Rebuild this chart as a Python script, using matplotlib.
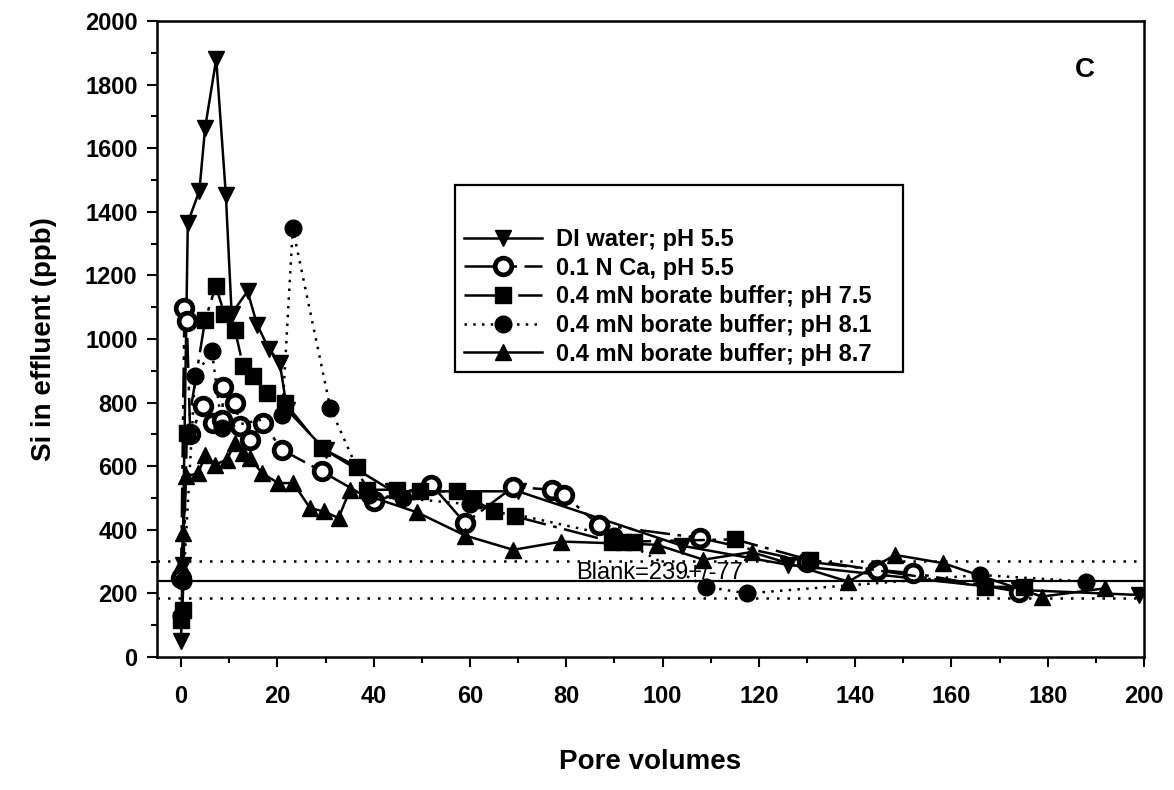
import matplotlib
matplotlib.use("Agg")
import matplotlib.pyplot as plt
from matplotlib.patches import Rectangle
from matplotlib.ticker import MultipleLocator

plt.rcParams['font.family'] = ['Liberation Sans', 'DejaVu Sans']

# Si breakthrough data (pore volumes vs Si in effluent, ppb)
di_x = [0, 0.3, 1.4, 3.8, 5.0, 7.3, 9.3, 10.5, 13.8, 15.8, 18.2, 20.5, 22.0, 30.0,
        44.0, 70.0, 104.0, 126.0, 174.0, 199.0]
di_y = [50, 290, 1366, 1466, 1665, 1880, 1453, 1080, 1150, 1045, 970, 925, 778, 650,
        521, 521, 350, 290, 211, 195]

ca_x = [0, 0.7, 1.2, 1.9, 4.6, 6.7, 8.5, 8.8, 11.2, 12.3, 14.3, 17.1, 20.9, 29.2,
        40.0, 52.0, 59.0, 69.0, 77.0, 79.5, 86.7, 107.8, 130.0, 144.5, 152.0, 174.0]
ca_y = [250, 1098, 1056, 700, 788, 736, 746, 850, 800, 726, 683, 736, 652, 584,
        490, 542, 421, 535, 526, 510, 416, 374, 300, 274, 264, 205]

b75_x = [0, 0.3, 1.2, 5.0, 7.2, 9.0, 11.2, 12.9, 15.0, 17.8, 21.6, 29.2, 36.5, 38.6,
         44.8, 49.6, 57.3, 60.7, 64.9, 69.4, 89.4, 91.9, 94.0, 115.0, 130.6, 167.0, 175.0]
b75_y = [117, 148, 704, 1060, 1166, 1080, 1028, 914, 883, 830, 799, 657, 599, 526,
         526, 521, 521, 494, 460, 442, 363, 363, 363, 370, 305, 221, 220]

b81_x = [0, 0.5, 2.9, 6.4, 8.5, 21.0, 23.2, 31.0, 39.0, 46.0, 60.0, 90.0, 109.0,
         117.5, 166.0, 188.0]
b81_y = [130, 240, 883, 962, 720, 760, 1348, 783, 510, 500, 480, 380, 221,
         200, 258, 237]

b87_x = [0, 0.5, 1.0, 3.6, 5.0, 7.0, 9.5, 11.2, 12.9, 14.3, 16.8, 20.2, 23.3, 26.8,
         29.6, 32.7, 35.1, 49.0, 59.0, 69.0, 79.0, 98.8, 108.5, 118.5, 138.6, 148.3,
         158.3, 178.8, 191.9]
b87_y = [290, 390, 568, 578, 636, 605, 620, 673, 641, 626, 578, 547, 547, 468,
         458, 437, 526, 455, 382, 337, 363, 353, 306, 330, 237, 321, 295, 190, 216]

labels = ['DI water; pH 5.5', '0.1 N Ca, pH 5.5', '0.4 mN borate buffer; pH 7.5',
          '0.4 mN borate buffer; pH 8.1', '0.4 mN borate buffer; pH 8.7']

blank_mean = 239
blank_band = [303, 184]

fig = plt.figure(figsize=(11.74, 7.90), dpi=100)
ax = fig.add_axes([157 / 1174, 133 / 790, (1144 - 157) / 1174, (657 - 21) / 790])

# blank level and its band
ax.axhline(blank_mean, color='black', lw=1.6, zorder=1)
for b in blank_band:
    ax.axhline(b, color='black', lw=1.8, ls=(0, (1, 3.2)), zorder=1)
ax.text(82, blank_mean + 26, 'Blank=%d+/-77' % blank_mean, fontsize=17,
        ha='left', va='center', zorder=2)

ms = 12
ax.plot(di_x, di_y, color='black', lw=1.8, ls='-', marker='v', ms=ms,
        mfc='black', mec='black', label=labels[0], zorder=3)
ax.plot(ca_x, ca_y, color='black', lw=1.8, ls=(0, (12, 3, 1.5, 3, 1.5, 3)),
        marker='o', ms=ms, mfc='white', mec='black', mew=3.4,
        label=labels[1], zorder=3)
ax.plot(b75_x, b75_y, color='black', lw=1.8, ls=(0, (14, 3, 1.5, 3)), marker='s',
        ms=ms - 1, mfc='black', mec='black', label=labels[2], zorder=3)
ax.plot(b81_x, b81_y, color='black', lw=1.8, ls=(0, (1, 2.5)), marker='o', ms=ms,
        mfc='black', mec='black', label=labels[3], zorder=3)
ax.plot(b87_x, b87_y, color='black', lw=1.8, ls='-', marker='^', ms=ms,
        mfc='black', mec='black', label=labels[4], zorder=3)

ax.set_xlim(-5, 200)
ax.set_ylim(0, 2000)
ax.xaxis.set_major_locator(MultipleLocator(20))
ax.xaxis.set_minor_locator(MultipleLocator(10))
ax.yaxis.set_major_locator(MultipleLocator(200))
ax.yaxis.set_minor_locator(MultipleLocator(100))
ax.tick_params(which='both', direction='out', width=1.5, labelsize=17, top=False,
               right=False)
ax.tick_params(which='major', length=7)
ax.tick_params(which='minor', length=4)
ax.tick_params(axis='x', which='major', pad=13)
ax.tick_params(axis='y', which='major', pad=7)
for lab in ax.get_xticklabels() + ax.get_yticklabels():
    lab.set_fontweight('bold')
for sp in ax.spines.values():
    sp.set_linewidth(1.8)

ax.set_xlabel('Pore volumes', fontsize=20, fontweight='bold', labelpad=30)
ax.set_ylabel('Si in effluent (ppb)', fontsize=20, fontweight='bold', labelpad=20)

fig.text(1085 / 1174, 1 - 70 / 790, 'C', fontsize=20, fontweight='bold',
         ha='center', va='center')

# legend without frame, boxed by a separate rectangle
leg = fig.legend(loc='upper left', bbox_to_anchor=(464 / 1174, 1 - 228 / 790),
                 frameon=False, fontsize=17, handlelength=3.3, handletextpad=0.6,
                 labelspacing=0.24, borderaxespad=0, borderpad=0)
for t in leg.get_texts():
    t.set_fontweight('bold')
fig.patches.append(Rectangle((455 / 1174, 1 - 372 / 790), 448 / 1174, 187 / 790,
                             transform=fig.transFigure, fill=False,
                             edgecolor='black', lw=1.6))

fig.savefig('out.png', dpi=100)
